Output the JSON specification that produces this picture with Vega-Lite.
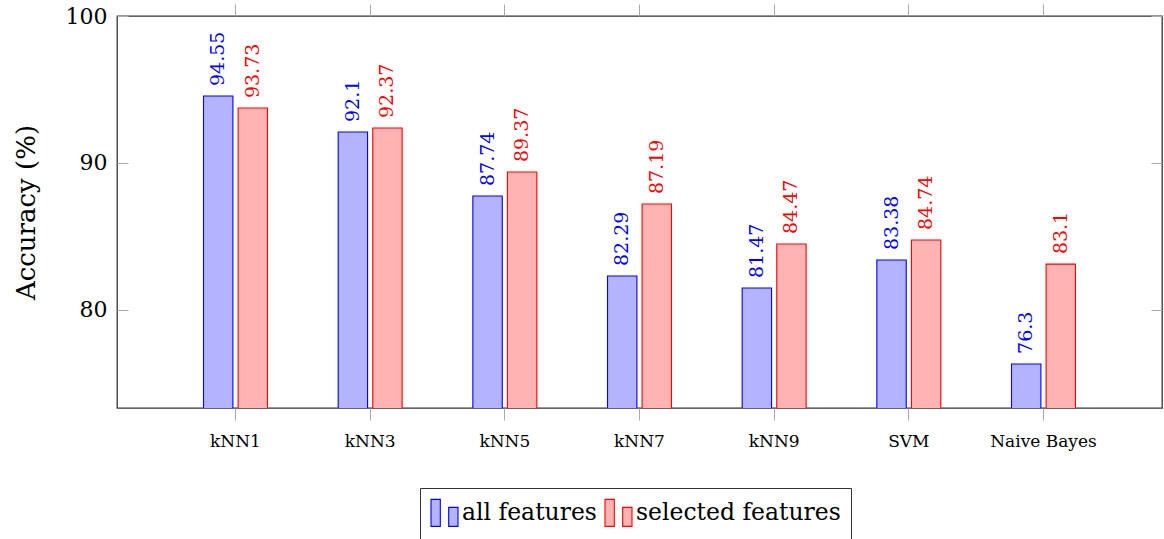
{
  "$schema": "https://vega.github.io/schema/vega-lite/v6.json",
  "autosize": {"type": "none"},
  "width": 1045,
  "height": 392,
  "padding": {"left": 117, "top": 16, "right": 2, "bottom": 131},
  "config": {
    "font": "DejaVu Serif",
    "view": {"stroke": "#333", "strokeWidth": 1.3},
    "axis": {"grid": false, "domain": false, "tickColor": "#aaa", "tickWidth": 1, "labelColor": "#000", "titleColor": "#000", "titleFontWeight": "normal", "labelFont": "DejaVu Serif", "titleFont": "DejaVu Serif"},
    "legend": {"labelFont": "DejaVu Serif", "labelColor": "#000"}
  },
  "data": {
    "values": [
      {"method": "kNN1", "series": "all features", "acc": 94.55},
      {"method": "kNN1", "series": "selected features", "acc": 93.73},
      {"method": "kNN3", "series": "all features", "acc": 92.1},
      {"method": "kNN3", "series": "selected features", "acc": 92.37},
      {"method": "kNN5", "series": "all features", "acc": 87.74},
      {"method": "kNN5", "series": "selected features", "acc": 89.37},
      {"method": "kNN7", "series": "all features", "acc": 82.29},
      {"method": "kNN7", "series": "selected features", "acc": 87.19},
      {"method": "kNN9", "series": "all features", "acc": 81.47},
      {"method": "kNN9", "series": "selected features", "acc": 84.47},
      {"method": "SVM", "series": "all features", "acc": 83.38},
      {"method": "SVM", "series": "selected features", "acc": 84.74},
      {"method": "Naive Bayes", "series": "all features", "acc": 76.3},
      {"method": "Naive Bayes", "series": "selected features", "acc": 83.1}
    ]
  },
  "layer": [
    {
      "mark": {"type": "bar", "strokeWidth": 1.1, "clip": true},
      "encoding": {
        "x": {"field": "method", "type": "nominal", "sort": null,
              "scale": {"paddingInner": 0.525, "paddingOuter": 0.6425},
              "axis": {"orient": "bottom", "title": null, "labelAngle": 0, "labelFontSize": 17, "tickSize": 12, "labelPadding": 13}},
        "xOffset": {"field": "series", "type": "nominal", "scale": {"paddingInner": 0.15, "paddingOuter": 0}},
        "y": {"field": "acc", "type": "quantitative",
              "scale": {"domain": [73.3, 100], "nice": false, "zero": false},
              "axis": {"orient": "left", "title": "Accuracy (%)", "titleFontSize": 26, "titlePadding": 26, "values": [80, 90, 100], "labelFontSize": 22, "tickSize": -11, "labelPadding": 21}},
        "fill": {"field": "series", "type": "nominal",
                 "scale": {"domain": ["all features", "selected features"], "range": ["#b3b3ff", "#ffb3b3"]},
                 "legend": {"title": null, "orient": "none", "legendX": 303, "legendY": 472, "direction": "horizontal",
                            "symbolType": "M-1,-1H-0.31V1H-1Z M0.31,-0.41H1V1H0.31Z", "symbolSize": 729, "symbolStrokeWidth": 1.1,
                            "labelFont": "DejaVu Serif", "labelFontSize": 23.5, "labelLimit": 0, "labelOffset": 3, "columnPadding": 5, "padding": 10, "strokeColor": "#333", "fillColor": "#fff", "symbolOpacity": 1}},
        "stroke": {"field": "series", "type": "nominal",
                   "scale": {"domain": ["all features", "selected features"], "range": ["#0000ff", "#ff0000"]},
                   "legend": {"title": null, "orient": "none", "legendX": 303, "legendY": 472, "direction": "horizontal",
                            "symbolType": "M-1,-1H-0.31V1H-1Z M0.31,-0.41H1V1H0.31Z", "symbolSize": 729, "symbolStrokeWidth": 1.1,
                            "labelFont": "DejaVu Serif", "labelFontSize": 23.5, "labelLimit": 0, "labelOffset": 3, "columnPadding": 5, "padding": 10, "strokeColor": "#333", "fillColor": "#fff", "symbolOpacity": 1}}
      }
    },
    {
      "mark": {"type": "text", "angle": 270, "align": "left", "baseline": "middle", "dx": 10, "fontSize": 19, "font": "DejaVu Serif"},
      "encoding": {
        "x": {"field": "method", "type": "nominal", "sort": null,
              "axis": {"orient": "top", "title": null, "labels": false, "tickSize": 12}},
        "xOffset": {"field": "series", "type": "nominal"},
        "y": {"field": "acc", "type": "quantitative",
              "axis": {"orient": "right", "title": null, "labels": false, "values": [80, 90, 100], "tickSize": -11}},
        "text": {"field": "acc", "type": "nominal"},
        "color": {"field": "series", "type": "nominal",
                  "scale": {"domain": ["all features", "selected features"], "range": ["#0000ff", "#ff0000"]},
                  "legend": null}
      }
    }
  ]
}
